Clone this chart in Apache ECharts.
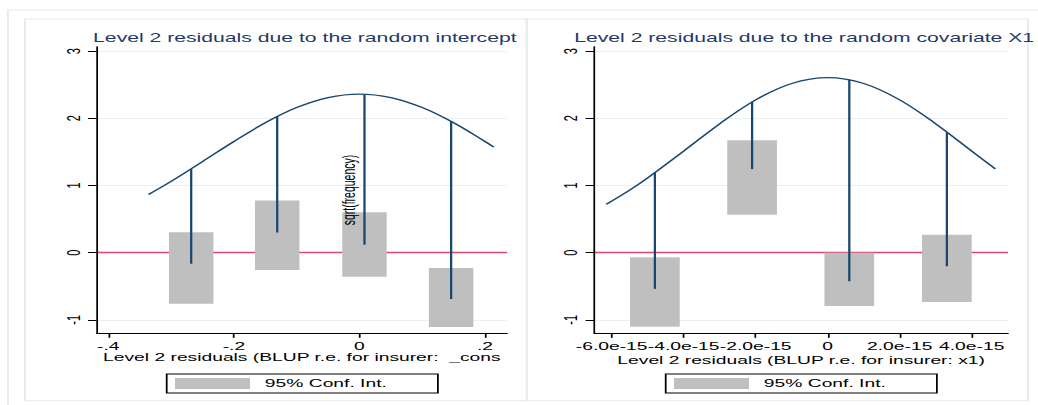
<!DOCTYPE html>
<html>
<head>
<meta charset="utf-8">
<script src="https://cdn.jsdelivr.net/npm/echarts@6/dist/echarts.min.js"></script>
<style>
html, body { margin: 0; padding: 0; background: #fff; overflow: hidden; }
#wrap { width: 1038px; height: 405px; overflow: hidden; position: relative; }
#chart { width: 593px; height: 405px; transform: scaleX(1.750422); transform-origin: 0 0; }
</style>
</head>
<body>
<div id="wrap"><div id="chart"></div></div>
<script>
// ---------------- data ----------------
// Panel 1: random intercept residuals
const binX1 = [-0.268, -0.131, 0.008, 0.146];
const ciLow1 = [-0.762, -0.257, -0.357, -1.108];
const ciHigh1 = [0.303, 0.778, 0.600, -0.227];
const stemTop1 = [1.243, 2.031, 2.348, 1.947];
const stemBottom1 = [-0.165, 0.300, 0.118, -0.690];
const curveX1 = [-0.336, -0.30, -0.25, -0.20, -0.15, -0.10, -0.05, 0.00, 0.05, 0.10, 0.15, 0.20, 0.214];
const curveY1 = [0.866, 1.061, 1.355, 1.654, 1.933, 2.159, 2.308, 2.360, 2.308, 2.159, 1.933, 1.654, 1.571];
const barWidth1 = 0.0708;
const xTicks1 = [-0.4, -0.2, 0, 0.2];
const xTickLabels1 = ['-.4', '-.2', '0', '.2'];

// Panel 2: random covariate X1 residuals (x values in units of 1e-15)
const binX2 = [-4.80, -2.10, 0.60, 3.31];
const ciLow2 = [-1.104, 0.565, -0.792, -0.733];
const ciHigh2 = [-0.070, 1.674, 0.000, 0.267];
const stemTop2 = [1.189, 2.248, 2.575, 1.788];
const stemBottom2 = [-0.539, 1.243, -0.426, -0.203];
const curveX2 = [-6.15, -5.5, -5.0, -4.0, -3.0, -2.0, -1.0, 0.0, 1.0, 2.0, 3.0, 4.0, 4.656];
const curveY2 = [0.720, 0.931, 1.113, 1.512, 1.918, 2.274, 2.518, 2.605, 2.518, 2.274, 1.918, 1.512, 1.246];
const barWidth2 = 1.38;
const xTicks2 = [-6, -4, -2, 0, 2, 4];
const xTickLabels2 = ['-6.0e-15', '-4.0e-15', '-2.0e-15', '0', '2.0e-15', '4.0e-15'];

const yTicks = [-1, 0, 1, 2, 3];
const yTickLabels = ['-1', '0', '1', '2', '3'];

const titles = ['Level 2 residuals due to the random intercept', 'Level 2 residuals due to the random covariate X1'];
const xNames = ['Level 2 residuals (BLUP r.e. for insurer:  _cons', 'Level 2 residuals (BLUP r.e. for insurer: x1)'];
const yName = 'sqrt(frequency)';
const legendName = '95% Conf. Int.';

// ---------------- layout / style ----------------
const W = 593;
const STRETCH = 1038 / W;
const sx = v => v / STRETCH;           // reference px -> chart px (horizontal)
const FONT = '"Liberation Sans", Arial, Helvetica, sans-serif';
const NAVY = '#1a476f';
const BAR = '#bfbfbf';
const GRIDC = '#e9f0f1';
const FRAME = '#e4ebeb';
const ZERO = '#d9486e';

const GRID_TOP = 46.7, GRID_BOTTOM = 333.3;
const panelPx = [{ l: 96.7, r: 507, xmin: -0.4185, xmax: 0.235, nameGap: 18, legendLeft: 166.7 },
                 { l: 594.3, r: 1008, xmin: -6.483, xmax: 5.008, nameGap: 21, legendLeft: 665.7 }];

const panels = [
  { binX: binX1, lo: ciLow1, hi: ciHigh1, top: stemTop1, bot: stemBottom1, cx: curveX1, cy: curveY1, bw: barWidth1, ticks: xTicks1, labels: xTickLabels1 },
  { binX: binX2, lo: ciLow2, hi: ciHigh2, top: stemTop2, bot: stemBottom2, cx: curveX2, cy: curveY2, bw: barWidth2, ticks: xTicks2, labels: xTickLabels2 }
];

function labelFor(ticks, labels) {
  return v => {
    let best = 0;
    for (let i = 1; i < ticks.length; i++) if (Math.abs(ticks[i] - v) < Math.abs(ticks[best] - v)) best = i;
    return labels[best];
  };
}

const grids = [], xAxes = [], yAxes = [], series = [], titleOpts = [], legends = [];
panels.forEach((p, i) => {
  const L = panelPx[i];
  grids.push({ left: sx(L.l), width: sx(L.r - L.l), top: GRID_TOP, height: GRID_BOTTOM - GRID_TOP, outerBoundsMode: 'none', containLabel: false });
  xAxes.push({
    type: 'value', gridIndex: i, min: L.xmin, max: L.xmax,
    axisLine: { show: true, onZero: false, lineStyle: { color: '#000', width: 1 } },
    axisTick: { show: true, length: 4.5, customValues: p.ticks, lineStyle: { color: '#000', width: 1 } },
    axisLabel: { customValues: p.ticks, formatter: labelFor(p.ticks, p.labels), fontSize: 11, color: '#000', margin: 7, fontFamily: FONT, hideOverlap: false },
    splitLine: { show: false },
    name: xNames[i], nameLocation: 'middle', nameGap: L.nameGap, nameMoveOverlap: false,
    nameTextStyle: { fontSize: 11, color: '#000', fontFamily: FONT }
  });
  const ya = {
    type: 'value', gridIndex: i, min: -1.2, max: 3.065, z: 10,
    axisLine: { show: true, onZero: false, lineStyle: { color: '#000', width: 1 } },
    axisTick: { show: true, length: 5, customValues: yTicks, lineStyle: { color: '#000', width: 1 } },
    axisLabel: { customValues: yTicks, formatter: labelFor(yTicks, yTickLabels), rotate: 90, fontSize: 11, color: '#000', margin: 8, fontFamily: FONT },
    splitLine: { show: false }
  };
  if (i === 0) {
    Object.assign(ya, { name: yName, nameLocation: 'middle', nameRotate: 90, nameGap: -149, nameMoveOverlap: false,
      nameTextStyle: { fontSize: 10.5, color: '#000', fontFamily: FONT } });
  }
  yAxes.push(ya);

  // grid lines + zero line
  series.push({
    type: 'line', xAxisIndex: i, yAxisIndex: i, data: [], silent: true, z: 1,
    markLine: {
      silent: true, symbol: ['none', 'none'], animation: false, z: 1,
      label: { show: false },
      data: yTicks.filter(v => v !== 0).map(v => ({ yAxis: v, lineStyle: { color: GRIDC, width: 1, type: 'solid' } }))
        .concat([{ yAxis: 0, lineStyle: { color: ZERO, width: 1.3, type: 'solid' } }])
    }
  });

  // confidence boxes
  const bw = p.bw;
  series.push({
    type: 'custom', name: legendName, xAxisIndex: i, yAxisIndex: i, z: 2, silent: true,
    data: p.binX.map((x, k) => [x, p.lo[k], p.hi[k]]),
    renderItem: (params, api) => {
      const x = api.value(0), lo = api.value(1), hi = api.value(2);
      const a = api.coord([x - bw / 2, hi]);
      const b = api.coord([x + bw / 2, lo]);
      return { type: 'rect', shape: { x: a[0], y: a[1], width: b[0] - a[0], height: b[1] - a[1] }, style: { fill: BAR } };
    },
    itemStyle: { color: BAR }
  });

  // hanging stems
  series.push({
    type: 'custom', name: 'stems' + i, xAxisIndex: i, yAxisIndex: i, z: 3, silent: true,
    data: p.binX.map((x, k) => [x, p.top[k], p.bot[k]]),
    renderItem: (params, api) => {
      const a = api.coord([api.value(0), api.value(1)]);
      const b = api.coord([api.value(0), api.value(2)]);
      return { type: 'line', shape: { x1: a[0], y1: a[1], x2: b[0], y2: b[1] }, style: { stroke: NAVY, lineWidth: 1.3 } };
    }
  });

  // expected (normal) curve
  series.push({
    type: 'line', name: 'curve' + i, xAxisIndex: i, yAxisIndex: i, z: 4, silent: true,
    data: p.cx.map((x, k) => [x, p.cy[k]]),
    smooth: 0.35, showSymbol: false, symbol: 'none',
    lineStyle: { color: NAVY, width: 1.2 }
  });

  titleOpts.push({
    text: titles[i], left: sx((L.l + L.r) / 2 + 3), top: 32, textAlign: 'center', padding: 0,
    textStyle: { fontSize: 12.1, fontWeight: 'normal', color: '#1f3a68', fontFamily: FONT }
  });

  legends.push({
    data: [{ name: legendName, icon: 'rect', itemStyle: { color: BAR } }],
    left: sx(L.legendLeft), top: 374, orient: 'horizontal', selectedMode: false,
    itemWidth: sx(75), itemHeight: 11,
    padding: [4, sx(51), 4, sx(8.3)],
    borderColor: '#000', borderWidth: 1, borderRadius: 0,
    textStyle: { fontSize: 11, color: '#000', fontFamily: FONT, padding: [0, 0, 0, 3.5] }
  });
});

const frames = [
  { x: sx(8), y: 10, w: sx(1100), h: 420 },
  { x: sx(25), y: 19, w: sx(526.7 - 25), h: 400.7 - 19 },
  { x: sx(526.7), y: 19, w: sx(1028 - 526.7), h: 400.7 - 19 }
];

const chart = echarts.init(document.getElementById('chart'), null, { renderer: 'svg', width: W, height: 405 });
chart.setOption({
  animation: false,
  backgroundColor: '#fff',
  title: titleOpts,
  legend: legends,
  grid: grids,
  xAxis: xAxes,
  yAxis: yAxes,
  series: series,
  graphic: frames.map(f => ({
    type: 'rect', silent: true, z: -10,
    shape: { x: f.x, y: f.y, width: f.w, height: f.h },
    style: { fill: 'none', stroke: FRAME, lineWidth: 1 }
  }))
});
</script>
</body>
</html>
